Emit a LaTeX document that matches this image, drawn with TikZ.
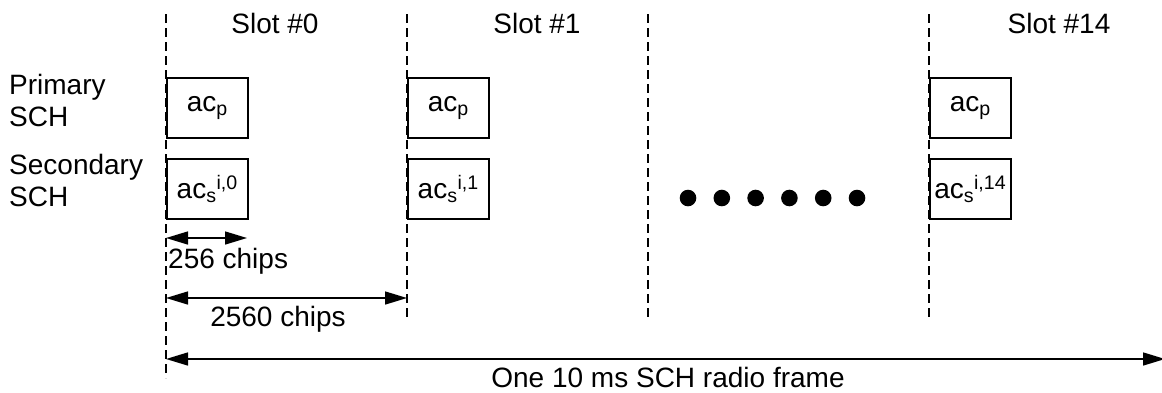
\documentclass[tikz,border=0pt]{standalone}
\usepackage{fontspec}
\setmainfont{Liberation Sans}
\usetikzlibrary{arrows.meta,positioning}
\tikzset{
    slot-line/.style = {draw, line width=1.3pt, dash pattern=on 9pt off 5pt},
    code-box/.style = {draw, line width=1.5pt, rectangle, minimum width=81pt, minimum height=60pt, inner sep=0pt},
    dim-arrow/.style = {line width=1.5pt, {Triangle[length=22pt,width=13pt]}-{Triangle[length=22pt,width=13pt]}},
    row-label/.style = {align=left, anchor=base west, inner sep=0pt},
}

\begin{document}
\begin{tikzpicture}[x=1pt, y=-1pt, font=\fontsize{28}{32}\selectfont]
\useasboundingbox (0,0) rectangle (1162,392);

% slot boundaries
\coordinate (s0top) at (166,14);
\coordinate (s0bot) at (166,378);
\coordinate (s1top) at (407,14);
\coordinate (s1bot) at (407,318);
\coordinate (dtop) at (648,14);
\coordinate (dbot) at (648,318);
\coordinate (s14top) at (929,14);
\coordinate (s14bot) at (929,318);
\draw [slot-line] (s0top) -- (s0bot);
\draw [slot-line] (s1top) -- (s1bot);
\draw [slot-line] (dtop) -- (dbot);
\draw [slot-line] (s14top) -- (s14bot);

\node [anchor=base] (slot0) at (275,33) {Slot \#0};
\node [anchor=base] (slot1) at (537,33) {Slot \#1};
\node [anchor=base] (slot14) at (1059,33) {Slot \#14};

\node [row-label] (psch) at (9,126) {Primary\\SCH};
\node [row-label] (ssch) at (9,206) {Secondary\\SCH};

% code boxes
\node [code-box, anchor=north west] (p0) at (166,77) {ac\textsubscript{p}};
\node [code-box, anchor=north west] (sc0) at (166,158) {ac\textsubscript{s}\textsuperscript{i,0}};
\node [code-box, anchor=north west] (p1) at (407,77) {ac\textsubscript{p}};
\node [code-box, anchor=north west] (sc1) at (407,158) {ac\textsubscript{s}\textsuperscript{i,1}};
\node [code-box, anchor=north west] (p14) at (929,77) {ac\textsubscript{p}};
\node [code-box, anchor=north west] (sc14) at (929,158) {ac\textsubscript{s}\textsuperscript{i,14}};

\foreach \k in {0,...,5}
    \fill (688+33.8*\k,198) circle (8.3pt);

% dimensions
\coordinate (a256l) at (166,238);
\coordinate (a256r) at (247,238);
\draw [dim-arrow] (a256l) -- (a256r);
\node [anchor=base west, inner sep=0pt] (l256) at (168,268) {256 chips};

\coordinate (a2560l) at (166,298);
\coordinate (a2560r) at (407,298);
\draw [dim-arrow] (a2560l) -- (a2560r);
\node [anchor=base] (l2560) at (278,326) {2560 chips};

\coordinate (framel) at (166,359);
\coordinate (framer) at (1165,359);
\draw [dim-arrow] (framel) -- (framer);
\node [anchor=base] (lframe) at (668,387) {One 10 ms SCH radio frame};
\end{tikzpicture}
\end{document}
